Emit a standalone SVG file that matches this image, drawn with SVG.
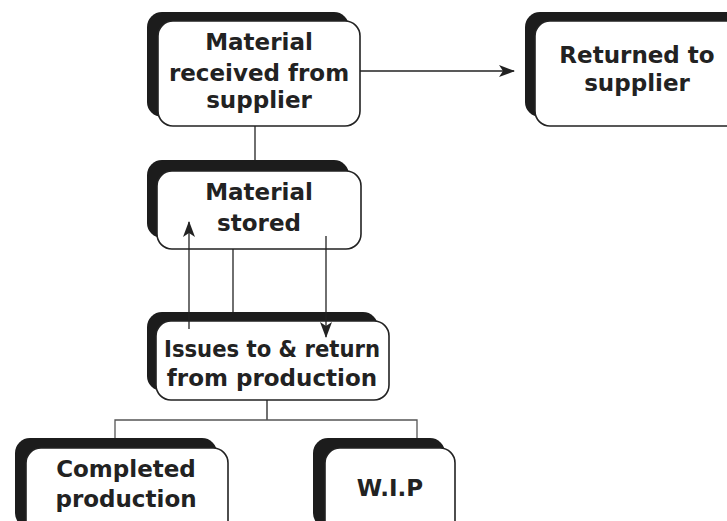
<svg xmlns="http://www.w3.org/2000/svg" width="727" height="521" viewBox="0 0 727 521">
<defs>
<style>
.sh{fill:#1c1c1c;}
.bx{fill:#fff;stroke:#222;stroke-width:1.6;}
.t{font-family:"DejaVu Sans","Liberation Sans",sans-serif;font-weight:bold;font-size:23px;fill:#222;text-anchor:middle;}
.ln{stroke:#222;stroke-width:1.3;fill:none;}
.lg{stroke:#555;stroke-width:1.3;fill:none;}
</style>
<marker id="ah" viewBox="0 0 16 12" refX="15" refY="6" markerWidth="16" markerHeight="12" markerUnits="userSpaceOnUse" orient="auto">
<path d="M0,0 L16,6 L0,12 L4,6 Z" fill="#222"/>
</marker>
</defs>
<rect width="727" height="521" fill="#fff"/>
<g id="n1">
<rect class="sh" x="147" y="12" width="202" height="105" rx="15"/>
<rect class="bx" x="158" y="21" width="202" height="105" rx="15"/>
<text class="t" x="259" y="50">Material</text>
<text class="t" x="259" y="81">received from</text>
<text class="t" x="259" y="108">supplier</text>
</g>
<g id="n2">
<rect class="sh" x="525" y="12" width="222" height="105" rx="15"/>
<rect class="bx" x="535" y="21" width="222" height="105" rx="15"/>
<text class="t" x="637" y="63">Returned to</text>
<text class="t" x="637" y="91">supplier</text>
</g>
<g id="n3">
<rect class="sh" x="147" y="160" width="202" height="78" rx="15"/>
<rect class="bx" x="157" y="171" width="204" height="78" rx="15"/>
<text class="t" x="259" y="200">Material</text>
<text class="t" x="259" y="231">stored</text>
</g>
<g id="n4">
<rect class="sh" x="147" y="312" width="231" height="79" rx="15"/>
<rect class="bx" x="156" y="321" width="233" height="79" rx="15"/>
<text class="t" x="272" y="357" textLength="216" lengthAdjust="spacingAndGlyphs">Issues to &amp; return</text>
<text class="t" x="272" y="386">from production</text>
</g>
<g id="n5">
<rect class="sh" x="15" y="438" width="202" height="90" rx="15"/>
<rect class="bx" x="26" y="448" width="202" height="90" rx="15"/>
<text class="t" x="126" y="477">Completed</text>
<text class="t" x="126" y="507">production</text>
</g>
<g id="n6">
<rect class="sh" x="313" y="438" width="132" height="90" rx="15"/>
<rect class="bx" x="325" y="448" width="130" height="90" rx="15"/>
<text class="t" x="390" y="496">W.I.P</text>
</g>
<g id="connectors">
<line class="ln" x1="360" y1="71" x2="514" y2="71" marker-end="url(#ah)"/>
<line class="ln" x1="255" y1="126" x2="255" y2="160"/>
<line class="ln" x1="189" y1="329" x2="189" y2="222" marker-end="url(#ah)"/>
<line class="ln" x1="233" y1="249" x2="233" y2="312"/>
<line class="ln" x1="326" y1="236" x2="326" y2="337" marker-end="url(#ah)"/>
<line class="ln" x1="267" y1="400" x2="267" y2="420"/>
<polyline class="lg" points="115,438 115,420 417,420 417,438"/>
</g>
</svg>
